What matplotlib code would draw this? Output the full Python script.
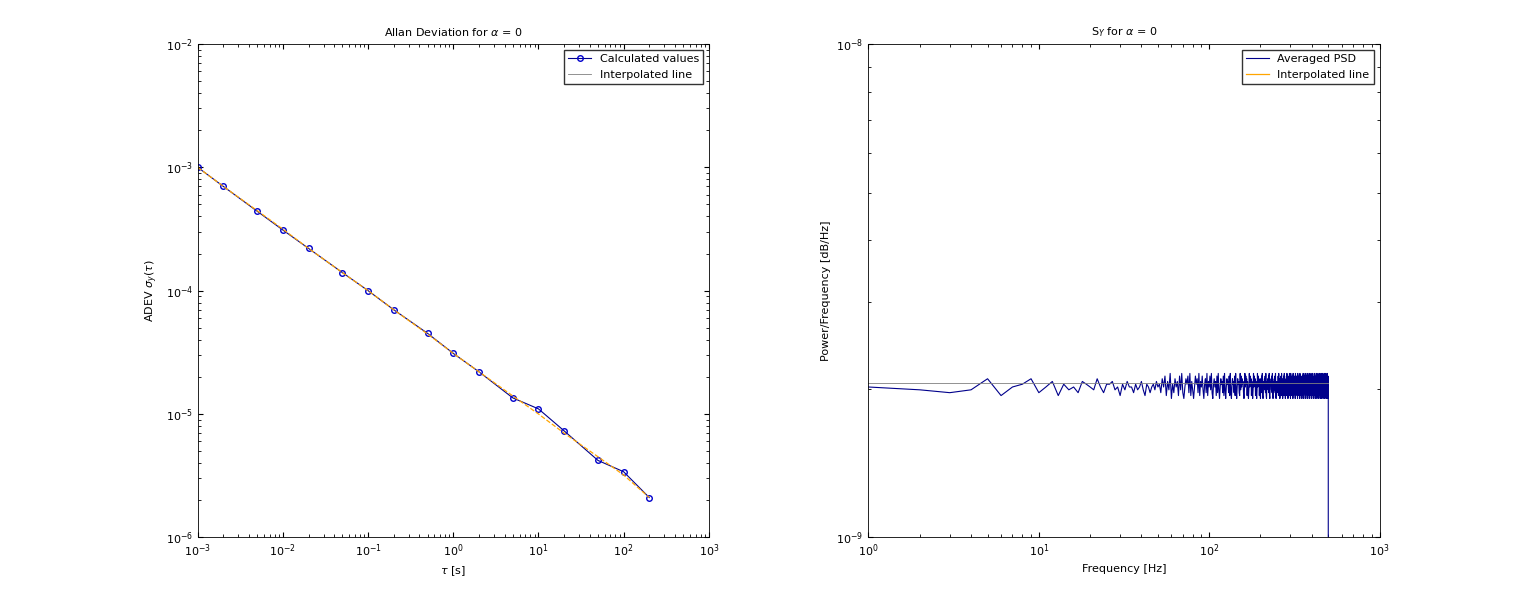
import numpy as np
import matplotlib.pyplot as plt
from matplotlib.lines import Line2D
from matplotlib.ticker import NullFormatter

tau = [1e-3, 2e-3, 5e-3, 1e-2, 2e-2, 5e-2, 0.1, 0.2, 0.5, 1, 2, 5, 10, 20, 50, 100, 200]
adev = [1e-3, 7e-4, 4.4e-4, 3.1e-4, 2.2e-4, 1.4e-4, 1.0e-4, 7.0e-5, 4.5e-5, 3.1e-5,
        2.2e-5, 1.35e-5, 1.1e-5, 7.3e-6, 4.2e-6, 3.4e-6, 2.1e-6]
adev_fit = [1e-3, 7.0e-4, 4.45e-4, 3.15e-4, 2.2e-4, 1.4e-4, 1.0e-4, 7.0e-5, 4.45e-5, 3.1e-5,
            2.2e-5, 1.4e-5, 1.0e-5, 7.0e-6, 4.5e-6, 3.2e-6, 2.1e-6]

# PSD noise levels, one digit per Hz bin (1..500 Hz)
psd_digits = (
    "43237145724615342654374255634153644253463154245364"
    "52748163905274618392047582916304857291648305729164"
    "83920574618293047562819304756281930475628193047562"
    "19384756203948571620394857162039485716203948571620"
    "73829104657382910465738291046573829104657382910465"
    "46281937504628193750462819375046281937504628193750"
    "95173846209517384620951738462095173846209517384620"
    "38472916053847291605384729160538472916053847291605"
    "61829374056182937405618293740561829374056182937405"
    "27495018362749501836274950183627495018362749501836"
)
psd_level = 2.03e-9
psd_fit = 2.05e-9

freq = list(range(1, 501)) + [500]
psd = [psd_level * (1 + (int(d) - 4.5) * 0.013) for d in psd_digits] + [5e-10]

fig = plt.figure(figsize=(15.21, 6.03), dpi=100)
plt.rcParams['font.size'] = 8

ax1 = fig.add_axes([0.130, 0.109, 0.336, 0.818])
ax1.loglog(tau, adev, '-o', color='#00008b', mfc='none', mec='#0000cc', ms=4, lw=0.8)
ax1.loglog(tau, adev_fit, '--', color='orange', lw=0.9)
ax1.set_xlim(1e-3, 1e3)
ax1.set_ylim(1e-6, 1e-2)
ax1.set_title(r'Allan Deviation for $\alpha$ = 0', fontsize=8)
ax1.set_xlabel(r'$\tau$ [s]')
ax1.set_ylabel(r'ADEV $\sigma_y(\tau)$')
ax1.legend([Line2D([], [], color='#00008b', marker='o', mfc='none', mec='#0000cc', ms=4, lw=0.8),
            Line2D([], [], color='gray', lw=0.6)],
           ['Calculated values', 'Interpolated line'], loc='upper right',
           fancybox=False, edgecolor='black', fontsize=8)

ax2 = fig.add_axes([0.571, 0.109, 0.336, 0.818])
ax2.loglog(freq, psd, color='#00008b', lw=0.8)
ax2.loglog([1, 500], [psd_fit, psd_fit], color='gray', lw=0.6)
ax2.set_xlim(1, 1e3)
ax2.set_ylim(1e-9, 1e-8)
ax2.yaxis.set_minor_formatter(NullFormatter())
ax2.xaxis.set_minor_formatter(NullFormatter())
ax2.set_title(r'S$_Y$ for $\alpha$ = 0', fontsize=8)
ax2.set_xlabel('Frequency [Hz]')
ax2.set_ylabel('Power/Frequency [dB/Hz]')
ax2.legend([Line2D([], [], color='#00008b', lw=0.8), Line2D([], [], color='orange', lw=0.9)],
           ['Averaged PSD', 'Interpolated line'], loc='upper right',
           fancybox=False, edgecolor='black', fontsize=8)

for ax in (ax1, ax2):
    ax.tick_params(which='both', direction='in', top=True, right=True, labelsize=8)
    for s in ax.spines.values():
        s.set_linewidth(0.6)

fig.savefig('out.png', dpi=100)
